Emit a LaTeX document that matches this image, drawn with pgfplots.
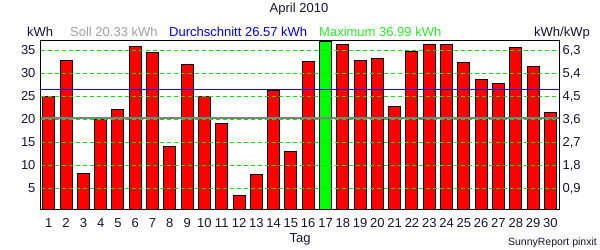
\documentclass[border=0pt]{standalone}
\usepackage{fontspec}
\setmainfont{Liberation Sans}
\usepackage{pgfplots}
\pgfplotsset{compat=1.18}
\definecolor{sollgray}{RGB}{160,160,160}
\definecolor{linegray}{RGB}{128,128,128}
\definecolor{avgblue}{RGB}{0,0,240}
\definecolor{maxgreen}{RGB}{40,235,40}
\definecolor{gridgreen}{RGB}{0,230,0}
\definecolor{barred}{RGB}{255,0,0}
\definecolor{bargreen}{RGB}{0,255,0}
\definecolor{txt}{RGB}{20,20,40}
\begin{document}
\fontsize{13bp}{15bp}\selectfont
\begin{tikzpicture}
\useasboundingbox (0,0) rectangle (600bp,250bp);
\begin{axis}[
  at={(41bp,41bp)}, anchor=south west,
  scale only axis, width=518bp, height=168bp,
  xmin=0.55, xmax=30.5, ymin=0.5435, ymax=37.065,
  axis line style={black, line width=1bp},
  xtick={1,...,30}, ytick={5,10,...,35},
  major tick length=0pt,
  tick label style={font=\fontsize{13bp}{15bp}\selectfont, text=txt},
  /pgf/number format/assume math mode=true,
  xticklabel style={anchor=base, yshift=-18bp},
  yticklabel style={xshift=-1bp},
]
\addplot[ybar, bar width=12bp, fill=barred, draw=black, line width=1bp] coordinates {
(1,24.9) (2,32.8) (3,8.3) (4,20.0) (5,22.2) (6,35.9) (7,34.6) (8,14.1) (9,32.0) (10,24.9)
(11,19.1) (12,3.5) (13,8.0) (14,26.3) (15,13.0) (16,32.6) (18,36.3) (19,32.8) (20,33.3)
(21,22.8) (22,34.8) (23,36.3) (24,36.3) (25,32.4) (26,28.7) (27,27.8) (28,35.7) (29,31.6) (30,21.6)
};
\addplot[ybar, bar width=12bp, fill=bargreen, draw=black, line width=1bp] coordinates {(17,36.99)};
\addplot[gridgreen, line width=1bp, dash pattern=on 4bp off 3bp, forget plot] coordinates {(0.55,5) (30.5,5)};
\addplot[gridgreen, line width=1bp, dash pattern=on 4bp off 3bp, forget plot] coordinates {(0.55,10) (30.5,10)};
\addplot[gridgreen, line width=1bp, dash pattern=on 4bp off 3bp, forget plot] coordinates {(0.55,15) (30.5,15)};
\addplot[gridgreen, line width=1bp, dash pattern=on 4bp off 3bp, forget plot] coordinates {(0.55,20) (30.5,20)};
\addplot[gridgreen, line width=1bp, dash pattern=on 4bp off 3bp, forget plot] coordinates {(0.55,25) (30.5,25)};
\addplot[gridgreen, line width=1bp, dash pattern=on 4bp off 3bp, forget plot] coordinates {(0.55,30) (30.5,30)};
\addplot[gridgreen, line width=1bp, dash pattern=on 4bp off 3bp, forget plot] coordinates {(0.55,35) (30.5,35)};
\addplot[linegray, line width=2.2bp] coordinates {(0.55,20.33) (30.5,20.33)};
\addplot[avgblue, line width=1bp] coordinates {(0.55,26.57) (30.5,26.57)};
\end{axis}
\begin{axis}[
  at={(41bp,41bp)}, anchor=south west,
  scale only axis, width=518bp, height=168bp,
  xmin=0.55, xmax=30.5, ymin=0.5435, ymax=37.065,
  axis line style={draw=none},
  axis y line*=right, axis x line=none,
  ytick={5,10,...,35},
  yticklabels={{0,9},{1,8},{2,7},{3,6},{4,5},{5,4},{6,3}},
  major tick length=0pt,
  tick label style={font=\fontsize{13bp}{15bp}\selectfont, text=txt},
  yticklabel style={xshift=-1bp},
]
\addplot[draw=none] coordinates {(1,1)};
\end{axis}
\node[anchor=base, text=txt, inner sep=0pt] at (299bp,237bp) {April 2010};
\node[anchor=base west, text=txt, inner sep=0pt] at (27bp,213bp) {kWh};
\node[anchor=base west, text=sollgray, inner sep=0pt] at (70bp,213bp) {Soll 20.33 kWh};
\node[anchor=base west, text=avgblue, inner sep=0pt] at (169bp,213bp) {Durchschnitt 26.57 kWh};
\node[anchor=base west, text=maxgreen, inner sep=0pt] at (319bp,213bp) {Maximum 36.99 kWh};
\node[anchor=base east, text=txt, inner sep=0pt] at (590bp,213bp) {kWh/kWp};
\node[anchor=base, text=txt, inner sep=0pt] at (300bp,7.5bp) {Tag};
\node[anchor=base east, text=txt, inner sep=0pt] at (597bp,4.3bp) {\fontsize{10.5bp}{12bp}\selectfont SunnyReport pinxit};
\end{tikzpicture}
\end{document}
